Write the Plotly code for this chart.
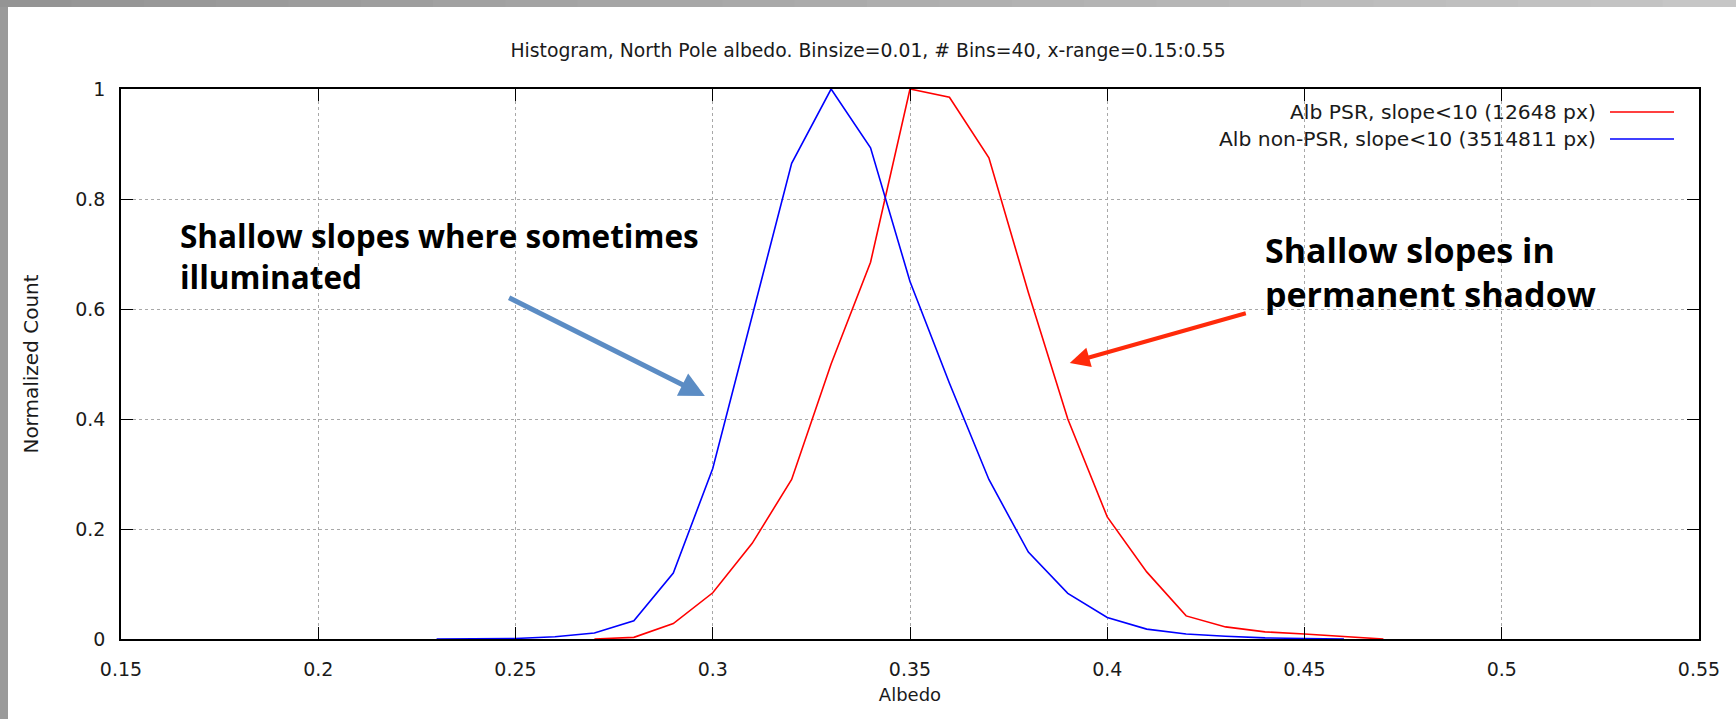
import plotly.graph_objects as go

# ---------------- data ----------------
albedo_psr = [0.27, 0.28, 0.29, 0.30, 0.31, 0.32, 0.33, 0.34, 0.35, 0.36, 0.37,
              0.38, 0.39, 0.40, 0.41, 0.42, 0.43, 0.44, 0.45, 0.46, 0.47]
count_psr = [0.0, 0.003, 0.028, 0.084, 0.174, 0.29, 0.50, 0.685, 1.0, 0.985, 0.875,
             0.63, 0.40, 0.222, 0.122, 0.042, 0.022, 0.013, 0.009, 0.004, 0.0]

albedo_nonpsr = [0.23, 0.24, 0.25, 0.26, 0.27, 0.28, 0.29, 0.30, 0.31, 0.32, 0.33, 0.34,
                 0.35, 0.36, 0.37, 0.38, 0.39, 0.40, 0.41, 0.42, 0.43, 0.44, 0.45, 0.46]
count_nonpsr = [0.0, 0.0003, 0.001, 0.004, 0.011, 0.033, 0.12, 0.31, 0.59, 0.865, 1.0, 0.893,
                0.65, 0.465, 0.29, 0.158, 0.083, 0.039, 0.018, 0.009, 0.005, 0.002, 0.001, 0.0]

x_ticks = [0.15, 0.2, 0.25, 0.3, 0.35, 0.4, 0.45, 0.5, 0.55]
x_tick_labels = ["0.15", "0.2", "0.25", "0.3", "0.35", "0.4", "0.45", "0.5", "0.55"]
y_ticks = [0, 0.2, 0.4, 0.6, 0.8, 1]
y_tick_labels = ["0", "0.2", "0.4", "0.6", "0.8", "1"]

name_psr = "Alb PSR, slope<10 (12648 px)"
name_nonpsr = "Alb non-PSR, slope<10 (3514811 px)"
title_text = "Histogram, North Pole albedo. Binsize=0.01, # Bins=40, x-range=0.15:0.55"
note_left = "Shallow slopes where sometimes<br>illuminated"
note_right = "Shallow slopes in<br>permanent shadow"

# ---------------- geometry helpers (pixels -> paper) ----------------
W, H = 1736, 719
L, R, T, B = 121, 37, 89, 80
PW, PH = W - L - R, H - T - B


def px(xp):
    return (xp - L) / PW


def py(yp):
    return (H - B - yp) / PH


FONT = "DejaVu Sans"
TXT = "#1a1a1a"

fig = go.Figure()
fig.add_trace(go.Scatter(x=albedo_psr, y=count_psr, mode="lines", name=name_psr,
                         line=dict(color="#ff0000", width=1.6), showlegend=False))
fig.add_trace(go.Scatter(x=albedo_nonpsr, y=count_nonpsr, mode="lines", name=name_nonpsr,
                         line=dict(color="#0000ff", width=1.6), showlegend=False))

shapes = []
# gray slide frame (left strip + gradient top strip)
shapes.append(dict(type="rect", xref="paper", yref="paper", x0=px(-2), x1=px(8),
                   y0=py(H + 2), y1=py(-2), fillcolor="#9a9a9a", line=dict(width=0), layer="above"))
nseg = 24
for i in range(nseg):
    g = int(0x94 + (0xc6 - 0x94) * i / (nseg - 1))
    col = "#%02x%02x%02x" % (g, g, g)
    shapes.append(dict(type="rect", xref="paper", yref="paper",
                       x0=px(W * i / nseg - 1), x1=px(W * (i + 1) / nseg + 1),
                       y0=py(7), y1=py(-2), fillcolor=col, line=dict(width=0), layer="above"))

# legend samples (line on the right of the text, gnuplot style)
legend_rows = [(name_psr, "#ff0000", 112), (name_nonpsr, "#0000ff", 139)]
annotations = []
for label, col, yrow in legend_rows:
    annotations.append(dict(xref="paper", yref="paper", x=px(1598), y=py(yrow),
                            text=label, showarrow=False, xanchor="right", yanchor="middle",
                            font=dict(family=FONT, size=20.3, color=TXT)))
    shapes.append(dict(type="line", xref="paper", yref="paper", x0=px(1610), x1=px(1674),
                       y0=py(yrow), y1=py(yrow), line=dict(color=col, width=1.6)))

# callout texts
annotations.append(dict(xref="paper", yref="paper", x=px(178), y=py(256),
                        text="<b>" + note_left + "</b>", showarrow=False, xanchor="left",
                        yanchor="middle", align="left",
                        font=dict(family="Open Sans", size=31.5, color="#000000")))
annotations.append(dict(xref="paper", yref="paper", x=px(1263), y=py(272),
                        text="<b>" + note_right + "</b>", showarrow=False, xanchor="left",
                        yanchor="middle", align="left",
                        font=dict(family="Open Sans", size=34, color="#000000")))

# callout arrows (head at x/y, tail at ax/ay), in data coordinates
annotations.append(dict(xref="x", yref="y", axref="x", ayref="y",
                        x=0.298, y=0.442, ax=0.248, ay=0.622, text="",
                        showarrow=True, arrowhead=2, arrowsize=1.0, arrowwidth=5,
                        arrowcolor="#5b8cc4", standoff=0))
annotations.append(dict(xref="x", yref="y", axref="x", ayref="y",
                        x=0.3905, y=0.502, ax=0.4355, ay=0.593, text="",
                        showarrow=True, arrowhead=2, arrowsize=1.0, arrowwidth=4,
                        arrowcolor="#ff2a0a", standoff=0))

axis_common = dict(showline=True, linecolor="#000000", linewidth=1.5, mirror="ticks",
                   ticks="inside", ticklen=12, tickcolor="#000000", tickwidth=1.3,
                   showgrid=True, gridcolor="#a8a8a8", griddash="dot", gridwidth=1,
                   zeroline=False, tickfont=dict(family=FONT, size=19, color=TXT))

fig.update_layout(
    width=W, height=H, autosize=False,
    margin=dict(l=L, r=R, t=T, b=B),
    paper_bgcolor="#ffffff", plot_bgcolor="#ffffff",
    title=dict(text=title_text, x=0.5, xref="container", xanchor="center",
               y=1 - 50 / H, yref="container", yanchor="middle",
               font=dict(family=FONT, size=18.8, color=TXT)),
    xaxis=dict(range=[0.15, 0.55], tickmode="array", tickvals=x_ticks, ticktext=x_tick_labels,
               title=dict(text="Albedo", font=dict(family=FONT, size=18, color=TXT), standoff=10),
               ticklabelstandoff=12, **axis_common),
    yaxis=dict(range=[0, 1], tickmode="array", tickvals=y_ticks, ticktext=y_tick_labels,
               title=dict(text="Normalized Count", font=dict(family=FONT, size=20, color=TXT),
                          standoff=31),
               ticklabelstandoff=10, **axis_common),
    shapes=shapes,
    annotations=annotations,
    showlegend=False,
)

fig.write_html("out.html", config={"displayModeBar": False},
               post_script="document.body.style.margin='0px';")
